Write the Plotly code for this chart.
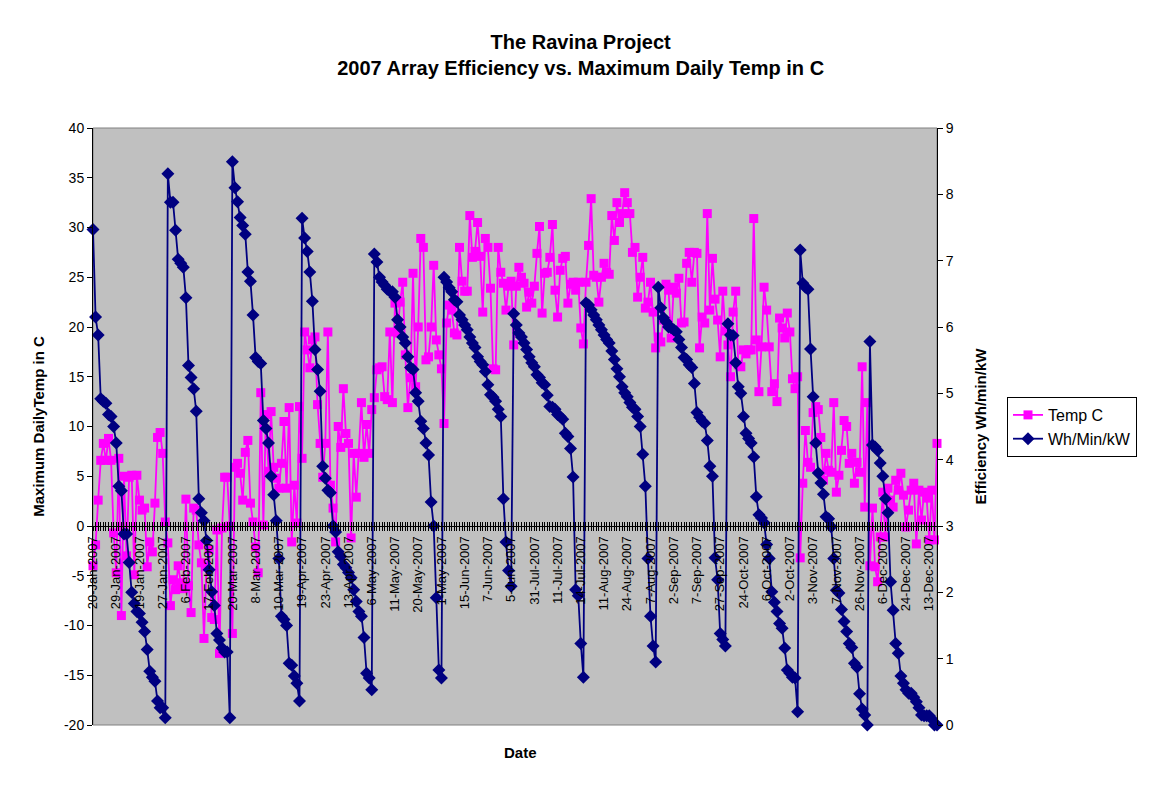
import plotly.graph_objects as go

# ---------------- data ----------------
date_labels = [
    "20-Jan-2007", "29-Jan-2007", "19-Jan-2007", "27-Jan-2007", "6-Feb-2007",
    "17-Feb-2007", "20-Mar-2007", "8-Mar-2007", "10-Mar-2007", "19-Apr-2007",
    "23-Apr-2007", "13-Apr-2007", "6-May-2007", "11-May-2007", "20-May-2007",
    "1-May-2007", "15-Jun-2007", "7-Jun-2007", "5-Jun-2007", "31-Jul-2007",
    "11-Jul-2007", "14-Jul-2007", "11-Aug-2007", "24-Aug-2007", "7-Aug-2007",
    "2-Sep-2007", "7-Sep-2007", "27-Sep-2007", "24-Oct-2007", "6-Oct-2007",
    "2-Oct-2007", "3-Nov-2007", "7-Nov-2007", "26-Nov-2007", "6-Dec-2007",
    "24-Dec-2007", "13-Dec-2007",
]
label_step = 9  # one date label every 9 daily readings

temp_c = [
    -4.0, -1.9, 2.6, 6.6, 8.3, 6.6, 8.8, 6.6, -0.7, -4.7, 6.8, -9.0, 5.0, -3.0, 4.9,
    5.1, -4.9, 5.1, 2.6, 1.6, 1.8, -4.1, -1.6, -2.6, 2.3, 8.9, 9.4, 7.3, 0.4,
    -1.7, -8.0, -5.4, -6.4, -4.0, -5.7, -6.3, 2.7, -6.0, -8.7, 1.8, 1.6, -1.9, -3.7,
    -11.3, -4.1, -2.4, -9.2, -9.4, -0.4, -12.8, -0.2, 4.9, 4.9, 0.0,
    -10.8, 5.9, 6.3, 5.3, 2.6, 7.4, 8.6, 2.3, 0.4, -2.1, -4.7, 13.4, 0.1, 11.2, 5.5,
    11.5, 5.9, 4.8, 3.8, 6.3, 10.5, 3.8, 11.9, -1.6, 4.1, 0.3, 12.0,
    6.8, 19.5, 17.7, 15.9, 18.7, 19.0, 12.2, 8.3, 4.9, 8.3, 19.5, 4.1, 1.8, -1.6,
    10.0, 7.9, 13.8, 9.3, 8.3, -1.2, 7.3, 2.9, 7.3, 12.4, 6.9, 10.2, 7.3, 11.7,
    12.9, 15.7, 15.9, 16.0, 13.0, 12.7, 19.5, 12.4, 22.4, 19.4, 22.5, 24.5, 17.2,
    11.9, 14.9, 25.4, 14.0, 20.0, 28.9, 28.0, 16.7, 17.0, 20.0, 26.2, 18.7, 17.2, 15.8,
    10.3, 20.4, 22.2, 21.7, 19.4, 19.2, 28.0, 24.6, 23.6, 23.6, 31.2, 27.0, 27.6,
    30.5, 27.1, 21.5, 28.9, 28.0, 23.9, 15.8, 15.7, 28.0, 25.5, 24.4, 21.7, 24.1, 24.6,
    18.2, 24.1, 26.0, 25.0, 24.4, 22.0, 23.5, 22.4, 24.1, 27.4, 30.1, 21.4, 25.4,
    25.5, 27.0, 30.3, 23.7, 21.0, 25.7, 26.9, 27.1, 22.4, 24.3, 24.5, 23.7, 24.5,
    19.9, 18.3,
    24.5, 28.2, 32.9, 25.2, 25.0, 22.5, 25.0, 26.4, 25.5, 25.3, 31.2, 28.7, 32.5,
    30.5, 31.4, 33.5, 32.5, 31.4, 27.5, 28.0, 23.0, 25.0, 27.0, 21.9, 22.5, 24.5,
    21.5, 17.9,
    19.0, 18.5, 20.7, 24.3, 23.7, 18.9, 24.0, 23.4, 24.9, 20.4, 20.5, 26.4, 27.5,
    24.5, 27.5, 27.4, 17.9, 21.0, 20.4, 31.4, 21.7, 26.9, 22.8, 20.7, 17.0, 23.6, 19.6,
    18.2, 15.0, 21.5, 23.6, 16.2, 16.0, 17.7, 17.3, 17.7, 17.7, 30.9, 18.7, 13.5,
    18.0, 24.0, 21.7, 18.0, 13.5, 14.3, 12.5, 20.9, 19.9, 18.9, 21.4, 19.5, 14.8,
    13.8, 15.0,
    -3.2, 4.3, 9.6, 6.4, 5.9, 11.4, 12.0, 11.7, 8.9, 4.6, 7.3, 5.6, 5.4, 12.4, 3.4,
    5.1, 7.6, 10.6, 10.0, 6.3, 7.3, 4.3, 6.4, 5.4, 16.0, 1.9, 12.4,
    -4.0, 1.8, -4.1, -5.6, -1.1, 3.4, -1.1, 3.8, 2.6, 1.9, 4.6, 3.6, 5.3, 3.1, -0.1,
    1.6, 3.6, 4.3, -1.8, 3.6, 0.6, 3.4, 2.8, -1.4, 3.6, -1.4, 8.3,
]

wh_min_kw = [
    7.47, 6.15, 5.88, 4.92, 4.88, 4.85, 4.68, 4.65, 4.50, 4.25, 3.60, 3.53, 2.88,
    2.88, 2.45, 2.00, 1.83, 1.71, 1.68, 1.55, 1.41, 1.14, 0.81, 0.72, 0.66, 0.36,
    0.26, 0.26, 0.11,
    8.31, 7.88, 7.88, 7.46, 7.02, 6.96, 6.90, 6.44, 5.42, 5.24, 5.07, 4.73, 3.41,
    3.20, 3.08, 2.78, 2.34, 2.01, 1.80, 1.38, 1.28, 1.16, 1.10, 1.10, 0.11,
    8.49, 8.10, 7.89, 7.65, 7.53, 7.40, 6.83, 6.69, 6.18, 5.54, 5.48, 5.45, 4.59,
    4.47, 4.25, 3.75, 3.47, 3.08, 2.51, 1.64, 1.59, 1.50, 0.93, 0.90, 0.74, 0.63, 0.36,
    7.64, 7.34, 7.14, 6.83, 6.39, 5.66, 5.36, 5.03, 3.90, 3.72, 3.54, 3.50, 3.00,
    2.91, 2.61, 2.54, 2.42, 2.37, 2.30, 2.22, 2.04, 1.86, 1.71, 1.64, 1.32, 0.78,
    0.71, 0.53,
    7.10, 6.98, 6.75, 6.68, 6.63, 6.57, 6.54, 6.53, 6.45, 6.11, 6.00, 5.85, 5.76,
    5.55, 5.39, 5.36, 5.01, 4.88, 4.58, 4.47, 4.25, 4.07, 3.36, 3.00, 1.92, 0.83, 0.71,
    6.75, 6.68, 6.59, 6.53, 6.41, 6.38, 6.18, 6.11, 6.03, 5.96, 5.85, 5.76, 5.69,
    5.55, 5.48, 5.43, 5.33, 5.13, 4.98, 4.94, 4.88, 4.76, 4.65, 3.41, 2.76, 2.33, 2.09,
    6.20, 6.03, 5.91, 5.85, 5.76, 5.66, 5.55, 5.46, 5.40, 5.28, 5.24, 5.16, 5.13,
    4.97, 4.80, 4.79, 4.76, 4.68, 4.65, 4.61, 4.40, 4.35, 4.17, 3.74, 2.04, 1.95,
    1.23, 0.72,
    6.36, 6.33, 6.26, 6.18, 6.11, 6.03, 5.96, 5.88, 5.81, 5.76, 5.64, 5.51, 5.37,
    5.25, 5.10, 5.01, 4.95, 4.86, 4.79, 4.76, 4.65, 4.50, 4.08, 3.60, 2.51, 1.64,
    1.19, 0.95,
    6.60, 6.29, 6.14, 6.08, 6.00, 5.99, 5.96, 5.93, 5.81, 5.69, 5.54, 5.51, 5.43,
    5.39, 5.15, 4.71, 4.64, 4.58, 4.55, 4.29, 3.90, 3.75, 2.52, 2.19, 1.38, 1.29, 1.19,
    6.05, 5.88, 5.87, 5.46, 5.10, 5.00, 4.65, 4.40, 4.32, 4.25, 4.04, 3.44, 3.17,
    3.12, 3.05, 2.72, 2.51, 2.01, 1.85, 1.71, 1.53, 1.46, 1.16, 0.83, 0.78, 0.72,
    0.71, 0.20,
    7.16, 6.66, 6.60, 6.57, 5.67, 4.95, 4.25, 3.80, 3.65, 3.48, 3.14, 3.11, 2.99,
    2.51, 2.03, 1.99, 1.74, 1.56, 1.41, 1.23, 1.17, 0.93, 0.87, 0.47, 0.24, 0.15, 0.00,
    5.78, 4.22, 4.19, 4.14, 3.95, 3.75, 3.41, 3.20, 2.16, 1.73, 1.23, 1.08, 0.74,
    0.63, 0.53, 0.48, 0.48, 0.42, 0.35, 0.26, 0.15, 0.14, 0.14, 0.14, 0.09, 0.00, 0.00,
]

left_ticks = [-20, -15, -10, -5, 0, 5, 10, 15, 20, 25, 30, 35, 40]
right_ticks = [0, 1, 2, 3, 4, 5, 6, 7, 8, 9]

# ---------------- figure ----------------
n = len(temp_c)
idx = list(range(n))
FONT = "Liberation Sans, Arial, sans-serif"

W, H = 1143, 780          # page body has an 8px margin
ML, MT, PW, PH = 85, 120, 844, 597

tick_text = []
for i in idx:
    k = i // label_step
    if i % label_step == 0 and k < len(date_labels):
        tick_text.append(date_labels[k])
    else:
        tick_text.append("")

fig = go.Figure()
fig.add_trace(go.Scatter(
    x=idx, y=temp_c, name="Temp C", mode="lines+markers",
    line=dict(color="#FF00FF", width=1.8),
    marker=dict(symbol="square", size=9, color="#FF00FF"),
    cliponaxis=False, yaxis="y", xaxis="x",
))
fig.add_trace(go.Scatter(
    x=idx, y=wh_min_kw, name="Wh/Min/kW", mode="lines+markers",
    line=dict(color="#000080", width=1.8),
    marker=dict(symbol="diamond", size=10, color="#000080"),
    cliponaxis=False, yaxis="y2", xaxis="x",
))
# helper (invisible) trace so the second tick row (crossing ticks) is drawn
fig.add_trace(go.Scatter(x=[0], y=[None], xaxis="x2", yaxis="y",
                         showlegend=False, hoverinfo="skip", mode="markers"))

ypos0 = (0 - left_ticks[0]) / (left_ticks[-1] - left_ticks[0])

fig.update_layout(
    width=W, height=H,
    margin=dict(l=ML, r=W - ML - PW, t=MT, b=H - MT - PH),
    paper_bgcolor="white", plot_bgcolor="#C0C0C0",
    font=dict(family=FONT, color="black", size=14),
    title=dict(
        text="<b>The Ravina Project</b><br><b>2007 Array Efficiency vs. Maximum Daily Temp in C</b>",
        x=0.501, xanchor="center", xref="container",
        y=0.947, yanchor="top", yref="container",
        font=dict(size=20, family=FONT, color="black"),
    ),
    xaxis=dict(
        range=[0, n - 1], anchor="free", position=ypos0,
        tickmode="array", tickvals=idx, ticktext=tick_text,
        tickangle=-90, ticks="outside", ticklen=4, tickwidth=1, tickcolor="black",
        showline=True, linecolor="black", linewidth=1,
        showgrid=False, zeroline=False,
        tickfont=dict(size=13, family=FONT, color="black"),
    ),
    xaxis2=dict(
        range=[0, n - 1], overlaying="x", anchor="free", position=ypos0,
        tickmode="array", tickvals=idx, ticks="inside", ticklen=4, tickwidth=1,
        tickcolor="black", showticklabels=False, showline=False,
        showgrid=False, zeroline=False,
    ),
    yaxis=dict(
        range=[left_ticks[0], left_ticks[-1]],
        tickmode="array", tickvals=left_ticks, ticktext=[str(v) for v in left_ticks],
        ticks="outside", ticklen=5, tickcolor="black",
        showline=True, linecolor="black", linewidth=1,
        showgrid=False, zeroline=False,
        tickfont=dict(size=14, family=FONT),
        title=dict(text="<b>Maximum DailyTemp in C</b>", font=dict(size=15, family=FONT), standoff=15),
    ),
    yaxis2=dict(
        range=[right_ticks[0], right_ticks[-1]], overlaying="y", side="right",
        tickmode="array", tickvals=right_ticks, ticktext=[str(v) for v in right_ticks],
        ticks="outside", ticklen=5, tickcolor="black",
        showline=True, linecolor="black", linewidth=1,
        showgrid=False, zeroline=False,
        tickfont=dict(size=14, family=FONT),
        title=dict(text="<b>Efficiency Wh/min/kW</b>", font=dict(size=15, family=FONT), standoff=22),
    ),
    legend=dict(
        x=(1007 - 93) / PW, y=(725 - 397) / PH, xanchor="left", yanchor="top",
        bgcolor="white", bordercolor="black", borderwidth=1,
        font=dict(size=16, family=FONT), tracegroupgap=0,
    ),
    showlegend=True,
)

# plot-area border (grey)
fig.add_shape(type="rect", xref="paper", yref="paper", x0=0, x1=1, y0=0, y1=1,
              line=dict(color="#808080", width=1), layer="below")

fig.add_annotation(text="<b>Date</b>", xref="paper", yref="paper",
                   x=(520 - 93) / PW, y=(725 - 752) / PH, showarrow=False,
                   xanchor="center", yanchor="middle",
                   font=dict(size=15, family=FONT, color="black"))

fig.write_html("out.html")
